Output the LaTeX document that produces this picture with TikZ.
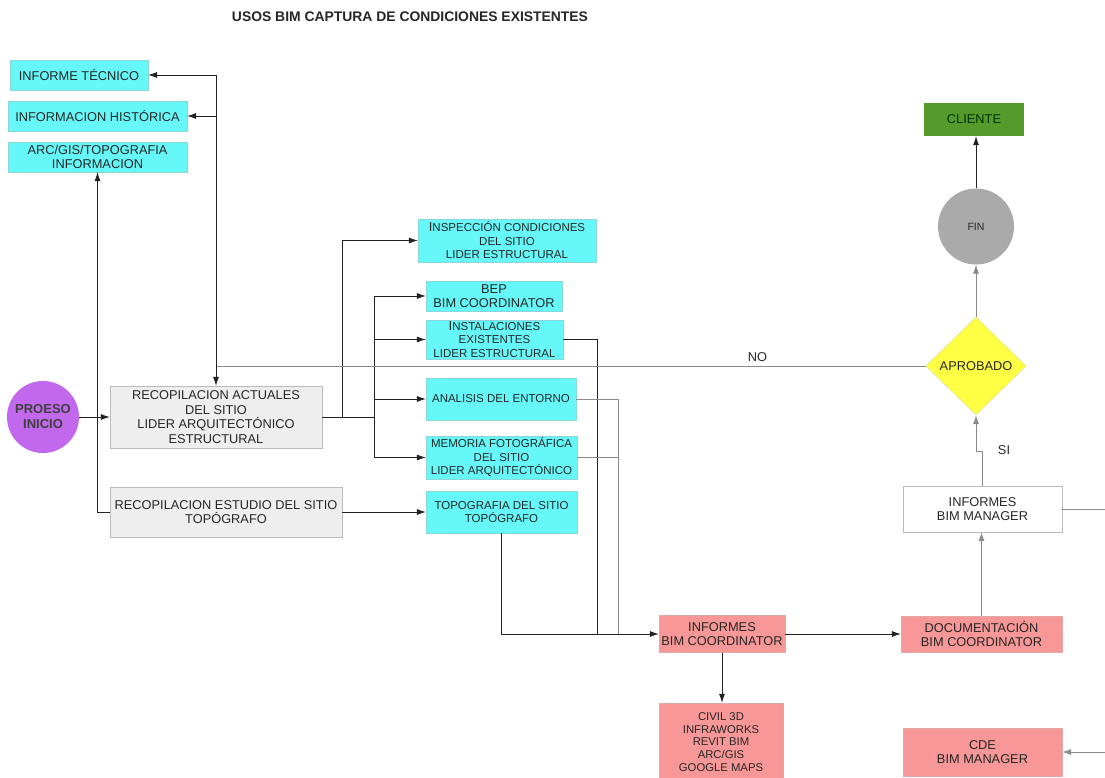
\documentclass[tikz,border=0pt]{standalone}
\usepackage{fontspec}
\setmainfont{Liberation Sans}
\usetikzlibrary{shapes.geometric,arrows.meta}

\definecolor{cyanfill}{HTML}{66F8F8}
\definecolor{cyanedge}{HTML}{8CD6D6}
\definecolor{salmonfill}{HTML}{F79797}
\definecolor{salmonedge}{HTML}{E0A8A8}
\definecolor{grayfill}{HTML}{EEEEEE}
\definecolor{grayedge}{HTML}{BBBBBB}
\definecolor{startfill}{HTML}{C268EC}
\definecolor{endfill}{HTML}{AAAAAA}
\definecolor{clientfill}{HTML}{559B2C}
\definecolor{decisionfill}{HTML}{FFFF44}
\definecolor{decisionedge}{HTML}{D8D890}
\definecolor{linedark}{HTML}{222222}
\definecolor{linelight}{HTML}{8A8A8A}

\tikzset{
  every node/.style={font=\fontsize{12.8}{14.5}\selectfont, text=black!85},
  cyanbox/.style={draw=cyanedge, fill=cyanfill, align=center, inner sep=0pt},
  smalltext/.style={font=\fontsize{11.5}{13.5}\selectfont},
  salmonbox/.style={draw=salmonedge, fill=salmonfill, align=center, inner sep=0pt},
  graybox/.style={draw=grayedge, fill=grayfill, align=center, inner sep=0pt},
  whitebox/.style={draw=grayedge, fill=white, align=center, inner sep=0pt},
  startnode/.style={circle, fill=startfill, align=center, inner sep=0pt,
    font=\bfseries\fontsize{13}{15}\selectfont, text=black!75},
  endnode/.style={circle, fill=endfill, inner sep=0pt, font=\fontsize{10.5}{12}\selectfont},
  decision/.style={diamond, draw=decisionedge, fill=decisionfill, inner sep=0pt, aspect=1},
  link/.style={draw=linedark, line width=0.7pt},
  linkgray/.style={draw=linelight, line width=0.8pt},
  tip/.style={-{Latex[length=9pt,width=6pt]}}
}

\begin{document}
\begin{tikzpicture}[x=1pt,y=-1pt]
      \useasboundingbox (0,0) rectangle (1105,778);
      \clip (0,0) rectangle (1105,778);
      \node[font=\bfseries\fontsize{13.9}{15}\selectfont] (title) at (410,17) {USOS BIM CAPTURA DE CONDICIONES EXISTENTES};
      % left column
      \node[cyanbox, minimum width=138, minimum height=30] (informe) at (79,75) {INFORME TÉCNICO};
      \node[cyanbox, minimum width=179, minimum height=30] (historica) at (97.5,116) {INFORMACION HISTÓRICA};
      \node[cyanbox, minimum width=179, minimum height=30] (arcgis) at (97.5,157) {ARC/GIS/TOPOGRAFIA\\INFORMACION};
      \node[startnode, minimum size=72] (inicio) at (43,417) {PROESO\\INICIO};
      \node[graybox, minimum width=212, minimum height=62] (recact) at (216,417) {RECOPILACION ACTUALES\\DEL SITIO\\LIDER ARQUITECTÓNICO\\ESTRUCTURAL};
      \node[graybox, minimum width=232, minimum height=50] (estudio) at (226,512) {RECOPILACION ESTUDIO DEL SITIO\\TOPÓGRAFO};
      % middle column
      \node[cyanbox, smalltext, minimum width=178, minimum height=43] (insp) at (507,240.5) {{\fontsize{13}{13}\selectfont I}NSPECCIÓN CONDICIONES\\DEL SITIO\\LIDER ESTRUCTURAL};
      \node[cyanbox, minimum width=136, minimum height=30] (bep) at (494,296) {BEP\\BIM COORDINATOR};
      \node[cyanbox, smalltext, minimum width=137, minimum height=39] (inst) at (494.5,339.5) {{\fontsize{13}{13}\selectfont I}NSTALACIONES\\EXISTENTES\\LIDER ESTRUCTURAL};
      \node[cyanbox, smalltext, minimum width=150, minimum height=42] (anal) at (501,399) {ANALISIS DEL ENTORNO};
      \node[cyanbox, smalltext, minimum width=151, minimum height=43] (memo) at (501.5,457.5) {MEMORIA FOTOGRÁFICA\\DEL SITIO\\LIDER ARQUITECTÓNICO};
      \node[cyanbox, smalltext, minimum width=151, minimum height=42] (topo) at (501.5,512) {TOPOGRAFIA DEL SITIO\\TOPÓGRAFO};
      % lower row
      \node[salmonbox, minimum width=126, minimum height=37] (infcoord) at (722,634) {INFORMES\\BIM COORDINATOR};
      \node[salmonbox, minimum width=161, minimum height=36] (doc) at (981.5,634) {DOCUMENTACIÓN\\BIM COORDINATOR};
      \node[salmonbox, font=\fontsize{11.3}{12.8}\selectfont, minimum width=124, minimum height=78] (civil) at (721,742) {CIVIL 3D\\INFRAWORKS\\REVIT BIM\\ARC/GIS\\GOOGLE MAPS};
      \node[salmonbox, minimum width=159, minimum height=48] (cde) at (982.5,752) {CDE\\BIM MANAGER};
      % right column
      \node[whitebox, minimum width=159, minimum height=46] (imgr) at (982.5,509) {INFORMES\\BIM MANAGER};
      \node[decision, minimum width=100, minimum height=98] (aprob) at (976,366) {APROBADO};
      \node[endnode, minimum size=76] (fin) at (976,226.5) {FIN};
      \node[fill=clientfill, text=black!80!green, minimum width=100, minimum height=33, inner sep=0pt] (cliente) at (974,119.5) {CLIENTE};
      % connectors
      \draw[link, tip] (inicio) -- (recact);
      \draw[link, tip] (estudio.west) -| (arcgis.south);
      \draw[link, tip] (estudio) -- (topo);
      \draw[link, tip] (recact.east) -- ++(20,0) |- (insp.west);
      \coordinate (fork) at (374,417);
      \draw[link] (recact.east) -- (fork);
      \foreach \n in {bep,inst,anal,memo}
      \draw[link, tip] (fork) |- (\n.west);
      \coordinate (joinA) at (597,634);
      \coordinate (joinB) at (618,634);
      \draw[link] (inst.east) -| (joinA);
      \draw[linkgray] (anal.east) -| (joinB);
      \draw[linkgray] (memo.east) -| (joinB);
      \draw[link, tip] (topo.south) |- (infcoord.west);
      \draw[link, tip] (infcoord) -- (doc);
      \draw[link, tip] (infcoord.south) -- (infcoord.south |- civil.north);
      \draw[linkgray, tip] (doc.north) -- (doc.north |- imgr.south);
      \draw[linkgray, tip] (imgr.north) -- ++(0,-34) -| (aprob.south);
      \node (si) at (1004,450) {SI};
      \draw[linkgray, tip] (aprob.north) -- (fin.south);
      \draw[link, tip] (fin.north) -- (fin.north |- cliente.south);
      \coordinate (noturn) at (216,366);
      \draw[linkgray] (aprob.west) -- (noturn) node[pos=0.237, above=1pt] (no) {NO};
      \draw[link, tip] (noturn) |- (informe.east);
      \draw[link, tip] (noturn) |- (historica.east);
      \draw[link, tip] (noturn) -- (recact.north);
      \draw[linkgray, tip] (imgr.east) -- ++(60,0) |- (cde.east);
\end{tikzpicture}
\end{document}
